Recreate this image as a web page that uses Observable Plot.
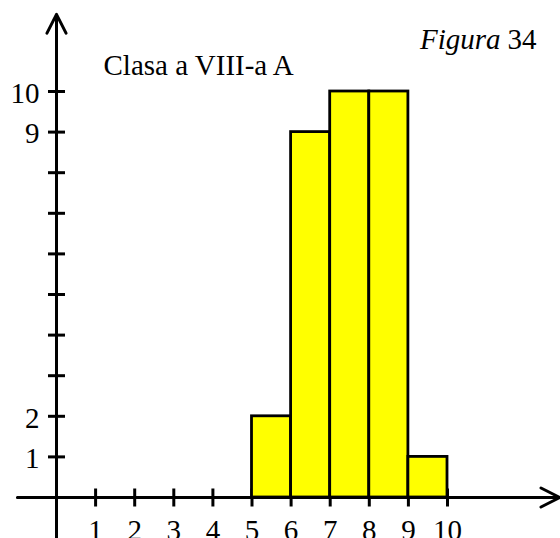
<!DOCTYPE html>
<html>
<head>
<meta charset="utf-8">
<script src="https://cdn.jsdelivr.net/npm/d3@7"></script>
<script src="https://cdn.jsdelivr.net/npm/@observablehq/plot@0.6"></script>
<style>
  html, body { margin: 0; padding: 0; background: #fff; }
  #chart svg { display: block; font-family: "Liberation Serif", "Times New Roman", serif; }
  #chart svg text { font-family: "Liberation Serif", "Times New Roman", serif; }
</style>
</head>
<body>
<div id="chart"></div>
<script>
// Data
const binStart = [5, 6, 7, 8, 9];
const binEnd   = [6, 7, 8, 9, 10];
const counts   = [2, 9, 10, 10, 1];
const xTicks = [1, 2, 3, 4, 5, 6, 7, 8, 9, 10];
const yTicks = [1, 2, 3, 4, 5, 6, 7, 8, 9, 10];
const yTickLabels = ["1", "2", "", "", "", "", "", "", "9", "10"];
const title = "Clasa a VIII-a A";
const figWord = "Figura";
const figNum = "34";

// axis extents (data units)
const xAxisFrom = -1, xAxisTo = 12.87;
const yAxisFrom = -1.1, yAxisTo = 11.9;

const bars = binStart.map((s, i) => ({x1: s, x2: binEnd[i], y: counts[i]}));
const xt = xTicks.map(v => ({x: v, y: 0}));
const yt = yTicks.map((v, i) => ({x: 0, y: v, label: yTickLabels[i]}));

const FONT = "Liberation Serif, Times New Roman, serif";

const vTick = {draw(ctx, size) { const r = Math.sqrt(size / Math.PI); ctx.moveTo(0, -r); ctx.lineTo(0, r); }};
const hTick = {draw(ctx, size) { const r = Math.sqrt(size / Math.PI); ctx.moveTo(-r, 0); ctx.lineTo(r, 0); }};

const chart = Plot.plot({
  width: 560,
  height: 538,
  marginLeft: 56,
  marginRight: 0,
  marginTop: 0,
  marginBottom: 41,
  style: {fontFamily: FONT, background: "#fff", overflow: "visible"},
  x: {domain: [0, 504 / 39.1], axis: null},
  y: {domain: [0, 497 / 40.6], axis: null},
  marks: [
    Plot.dot(xt, {x: "x", y: "y", symbol: vTick, r: 9, stroke: "black", strokeWidth: 3, fill: "none"}),
    Plot.dot(yt, {x: "x", y: "y", symbol: hTick, r: 8.5, stroke: "black", strokeWidth: 3, fill: "none"}),
    Plot.rectY(bars, {x1: "x1", x2: "x2", y: "y", fill: "#ffff00", stroke: "black", strokeWidth: 2.8}),
    Plot.arrow([{x1: xAxisFrom, y1: 0, x2: xAxisTo, y2: 0}], {x1: "x1", y1: "y1", x2: "x2", y2: "y2", stroke: "black", strokeWidth: 3, headLength: 10.5, headAngle: 54}),
    Plot.arrow([{x1: 0, y1: yAxisFrom, x2: 0, y2: yAxisTo}], {x1: "x1", y1: "y1", x2: "x2", y2: "y2", stroke: "black", strokeWidth: 3, headLength: 10.5, headAngle: 54}),
    Plot.text(xt, {x: "x", y: "y", text: d => String(d.x), dy: 42, lineAnchor: "bottom", textAnchor: "middle", fontSize: 29, fontFamily: FONT, fill: "black"}),
    Plot.text(yt, {x: "x", y: "y", text: "label", dx: -17, dy: 2, lineAnchor: "middle", textAnchor: "end", fontSize: 29, fontFamily: FONT, fill: "black"}),
    Plot.text([title], {frameAnchor: "top-left", dx: 47, dy: 74, lineAnchor: "bottom", textAnchor: "start", fontSize: 29, fontFamily: FONT, fill: "black"}),
    Plot.text([figWord], {frameAnchor: "top-right", dx: -60, dy: 48, lineAnchor: "bottom", textAnchor: "end", fontSize: 29, fontStyle: "italic", fontFamily: FONT, fill: "black"}),
    Plot.text([figNum], {frameAnchor: "top-right", dx: -24, dy: 48, lineAnchor: "bottom", textAnchor: "end", fontSize: 29, fontFamily: FONT, fill: "black"})
  ]
});
document.getElementById("chart").appendChild(chart);
</script>
</body>
</html>
